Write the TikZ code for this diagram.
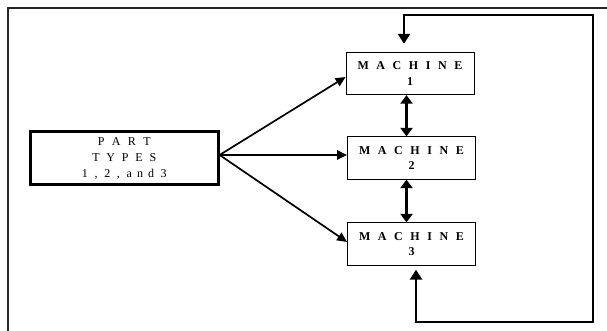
\documentclass[tikz,border=0pt]{standalone}
\usepackage{fontspec}
\setmainfont{Liberation Serif}
\usetikzlibrary{arrows.meta,calc}
\newcommand\lgap[1]{\hspace{#1}}
\begin{document}
\begin{tikzpicture}[x=1pt,y=-1pt,
  frame/.style={draw=black!85,line width=1.3pt},
  partbox/.style={draw,line width=2.6pt,minimum width=188pt,minimum height=53.5pt,inner sep=0pt,align=center,font=\fontsize{12}{16}\selectfont},
  machbox/.style={draw,line width=0.8pt,minimum width=128pt,minimum height=42.5pt,inner sep=0pt,align=center,font=\bfseries\fontsize{12}{15.5}\selectfont},
  feed/.style={line width=2.5pt,{Triangle[length=10pt,width=12pt]}-{Triangle[length=10pt,width=12pt]}},
  dbl/.style={line width=3pt,{Triangle[length=8.5pt,width=12pt]}-{Triangle[length=8.5pt,width=12pt]}},
  diag/.style={line width=1.7pt,-{Triangle[length=10pt,width=9pt]}},
  mid/.style={line width=2.2pt,-{Triangle[length=10pt,width=9pt]}}]
\useasboundingbox (0,0) rectangle (607,331);
\draw[frame] (8,335) -- (8,8) -- (610,8);
\node[partbox] (part) at (124.3,158) {P\lgap{7.4pt}A\lgap{7.4pt}R\lgap{7.4pt}T\\T\lgap{6.8pt}Y\lgap{6.8pt}P\lgap{6.8pt}E\lgap{6.8pt}S\\1\lgap{6.7pt},\lgap{6.7pt}2\lgap{6.7pt},\lgap{6.7pt}a\lgap{5pt}n\lgap{5pt}d\lgap{6.7pt}3};
\node[machbox] (m1) at (410,73.5) {M\lgap{7.6pt}A\lgap{7.6pt}C\lgap{7.6pt}H\lgap{7.6pt}I\lgap{7.6pt}N\lgap{7.6pt}E\\1};
\node[machbox] (m2) at (411.5,158) {M\lgap{7.6pt}A\lgap{7.6pt}C\lgap{7.6pt}H\lgap{7.6pt}I\lgap{7.6pt}N\lgap{7.6pt}E\\2};
\node[machbox] (m3) at (411.5,244) {M\lgap{7.6pt}A\lgap{7.6pt}C\lgap{7.6pt}H\lgap{7.6pt}I\lgap{7.6pt}N\lgap{7.6pt}E\\3};
\coordinate (src) at ($(part.east)+(0,-3)$);
\draw[diag] (src) -- ($(m1.west)+(0,3.5)$);
\draw[mid] (src) -- ($(m2.west)+(0,-3)$);
\draw[diag] (src) -- ($(m3.west)+(0,-2)$);
\coordinate (vx) at (406.5,0);
\draw[dbl] (m1.south -| vx) -- (m2.north -| vx);
\draw[dbl] (m2.south -| vx) -- (m3.north -| vx);
\coordinate (fbtop) at ($(m1.north)+(-6,-8)$);
\coordinate (fbbot) at ($(m3.south)+(4.5,4)$);
\draw[feed] (fbbot) -- (fbbot |- 0,322) -- (593,322) -- (593,15) -- (fbtop |- 0,15) -- (fbtop);
\end{tikzpicture}
\end{document}
